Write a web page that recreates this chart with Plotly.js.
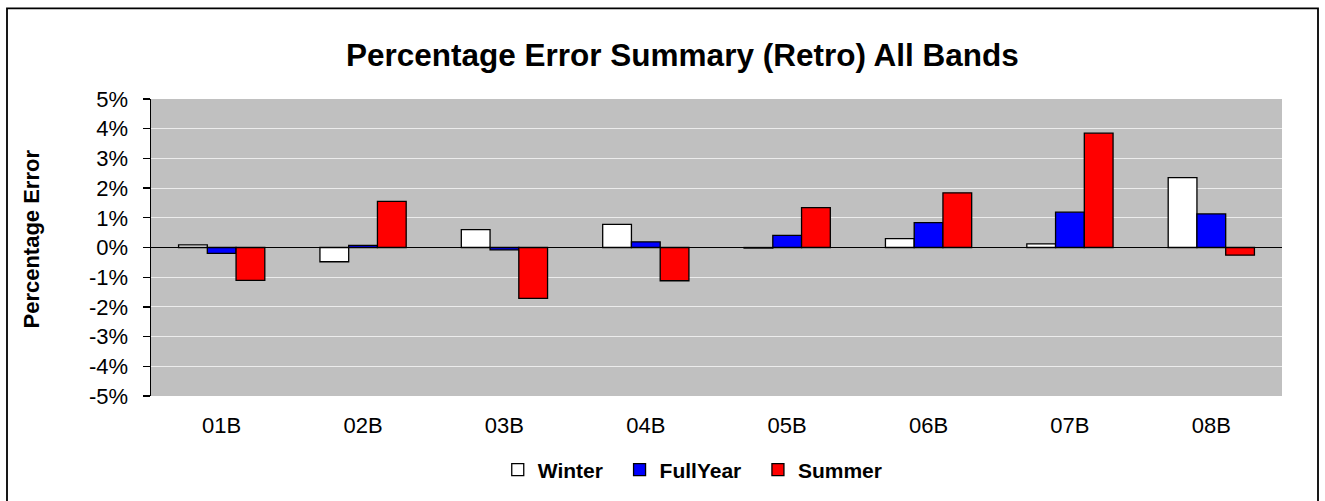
<!DOCTYPE html>
<html>
<head>
<meta charset="utf-8">
<script src="https://cdn.plot.ly/plotly-3.0.1.min.js"></script>
<style>html,body{margin:0;padding:0;background:#fff;}#chart{width:1325px;height:501px;}</style>
</head>
<body>
<div id="chart"></div>
<script>
var categories = ["01B","02B","03B","04B","05B","06B","07B","08B"];
var seriesNames = ["Winter", "FullYear", "Summer"];
var winter   = [0.09, -0.48, 0.60, 0.78, -0.02, 0.30, 0.12, 2.35];
var fullYear = [-0.20, 0.07, -0.08, 0.19, 0.41, 0.84, 1.19, 1.13];
var summer   = [-1.11, 1.55, -1.71, -1.12, 1.34, 1.84, 3.85, -0.26];
var yTickVals = [5,4,3,2,1,0,-1,-2,-3,-4,-5];
var yTickText = yTickVals.map(function(v){return v + "%";});

var NBSP = "\u00a0\u00a0";
function mk(name, vals, color){
  return {type:"bar", name:name, x:categories, y:vals,
    marker:{color:color, line:{color:"#000", width:1.3}},
    hoverinfo:"skip"};
}
var data = [
  mk(seriesNames[0] + NBSP, winter, "#ffffff"),
  mk(seriesNames[1] + NBSP, fullYear, "#0000ff"),
  mk(seriesNames[2], summer, "#ff0000")
];
var FONT = "Liberation Sans, Arial, sans-serif";
var L = 151, T = 99, W = 1131, H = 298;
var layout = {
  width:1325, height:501,
  margin:{l:L, r:43, t:T, b:104},
  paper_bgcolor:"#ffffff",
  plot_bgcolor:"#c0c0c0",
  font:{family:FONT, color:"#000"},
  title:{text:"<b>Percentage Error Summary (Retro) All Bands</b>", font:{size:31.5, color:"#000"},
    xref:"container", x:0.515, xanchor:"center", yref:"container", y:0.89, yanchor:"middle"},
  barmode:"group", bargap:0.39, bargroupgap:0,
  showlegend:true,
  legend:{orientation:"h", x:0.479, xanchor:"center", y:-0.245, yanchor:"middle",
    font:{size:21, color:"#000", family:FONT, weight:"bold"},
    itemwidth:30, bgcolor:"rgba(0,0,0,0)", traceorder:"normal"},
  xaxis:{type:"category", showline:false, ticks:"", showgrid:false, zeroline:false,
    tickfont:{size:22}, ticklabelstandoff:14, fixedrange:true},
  yaxis:{range:[-5,5], tickvals:yTickVals, ticktext:yTickText, tickfont:{size:22},
    showgrid:true, gridcolor:"#ececec", gridwidth:1,
    zeroline:true, zerolinecolor:"#000", zerolinewidth:1.3,
    showline:true, linecolor:"#000", linewidth:1.5,
    ticks:"outside", ticklen:7, tickcolor:"#000", tickwidth:1.3, ticklabelstandoff:10,
    fixedrange:true},
  annotations:[{text:"<b>Percentage Error</b>", textangle:-90, showarrow:false,
    xref:"paper", yref:"paper", x:(32-L)/W, y:(T+H-240)/H, xanchor:"center", yanchor:"middle",
    font:{size:22, family:FONT, color:"#000"}}],
  shapes:[{type:"rect", xref:"paper", yref:"paper",
    x0:(7-L)/W, x1:(1318-L)/W, y0:(T+H-504)/H, y1:1+(T-8)/H,
    line:{color:"#000", width:1.8}, fillcolor:"rgba(0,0,0,0)", layer:"below"}]
};
Plotly.newPlot("chart", data, layout, {displayModeBar:false, staticPlot:true});
</script>
</body>
</html>
